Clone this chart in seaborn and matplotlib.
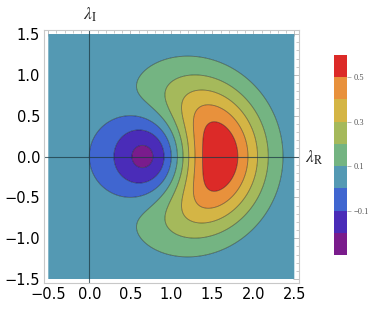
import numpy as np
import matplotlib
matplotlib.use('Agg')
import matplotlib.pyplot as plt
from matplotlib.ticker import MultipleLocator
import seaborn as sns

# ── Data ──────────────────────────────────────────────────────
X_RANGE   = [-0.5, 2.5]          # lambda_R extent of the field
Y_RANGE   = [-1.5, 1.5]          # lambda_I extent of the field
# field f = K (|l|^2 - Re l) exp(-A |l - C|^2), parameters fitted to contours
K_AMP     = 1.27
A_DECAY   = 2.0
C_SHIFT   = 1.0
LEVELS    = [-0.3, -0.2, -0.1, 0.0, 0.1, 0.2, 0.3, 0.4, 0.5, 0.6]
COLORS    = ['#7a1c8c', '#4a2cb8', '#4066d0', '#5499b3', '#74b482',
             '#a5b95b', '#d4b545', '#e8913c', '#dc2a28']
CB_TICKS  = [-0.1, 0.1, 0.3, 0.5]
X_TICKS   = [-0.5, 0.0, 0.5, 1.0, 1.5, 2.0, 2.5]
Y_TICKS   = [-1.5, -1.0, -0.5, 0.0, 0.5, 1.0, 1.5]

sns.set_style('white')
plt.rcParams['font.family'] = ['DejaVu Sans']
plt.rcParams['mathtext.fontset'] = 'stix'

xs = np.linspace(X_RANGE[0], X_RANGE[1], 500)
ys = np.linspace(Y_RANGE[0], Y_RANGE[1], 500)
XX, YY = np.meshgrid(xs, ys)
ZZ = K_AMP * (XX**2 + YY**2 - XX) * np.exp(-A_DECAY * ((XX - C_SHIFT)**2 + YY**2))

# ── Figure ────────────────────────────────────────────────────
fig = plt.figure(figsize=(3.74, 3.16), dpi=100)
ax = fig.add_axes([0.1184, 0.1044, 0.681, 0.8006])
cmap = matplotlib.colors.ListedColormap(sns.color_palette(COLORS))
cf = ax.contourf(XX, YY, ZZ, levels=LEVELS, cmap=cmap, antialiased=True)
ax.contour(XX, YY, ZZ, levels=LEVELS[1:-1], colors='k', alpha=0.45,
           linewidths=0.6, linestyles='solid')

ax.axhline(0, color='#1e3a44', lw=0.8, alpha=0.75)
ax.axvline(0, color='#1e3a44', lw=0.8, alpha=0.75)

ax.set_xlim(-0.549, 2.557)
ax.set_ylim(-1.549, 1.549)
ax.set_xticks(X_TICKS); ax.set_yticks(Y_TICKS)
ax.set_xticklabels([f'{v:.1f}'.replace('-', '\u2212') for v in X_TICKS])
ax.set_yticklabels([f'{v:.1f}'.replace('-', '\u2212') for v in Y_TICKS])
ax.xaxis.set_minor_locator(MultipleLocator(0.1))
ax.yaxis.set_minor_locator(MultipleLocator(0.1))
ax.tick_params(which='both', direction='in', top=True, right=True, color='#b4b4b4',
               labelsize=10.5, labelcolor='black', pad=3)
ax.tick_params(which='major', length=4.5, width=0.6)
ax.tick_params(which='minor', length=2.5, width=0.5)
for sp in ax.spines.values():
    sp.set_color('#c8c8c8'); sp.set_linewidth(0.8)

fig.text(90/374, 1 - 15/316, r'$\lambda_{\mathrm{I}}$', ha='center', va='center', fontsize=12.5)
fig.text(305/374, 1 - 158/316, r'$\lambda_{\mathrm{R}}$', ha='left', va='center', fontsize=12.5)

# ── Colorbar ──────────────────────────────────────────────────
cax = fig.add_axes([334/374, 1 - 255/316, 13/374, 200/316])
cb = fig.colorbar(cf, cax=cax, ticks=CB_TICKS)
cb.outline.set_visible(False)
cb.ax.set_yticklabels([f'{v:.1f}'.replace('-', '\u2212') for v in CB_TICKS],
                      family='Liberation Serif', fontsize=6, color='#555555')
cb.ax.tick_params(length=3, width=0.5, color='#999999', pad=1.5)

plt.savefig('out.png', dpi=100)
plt.close()
